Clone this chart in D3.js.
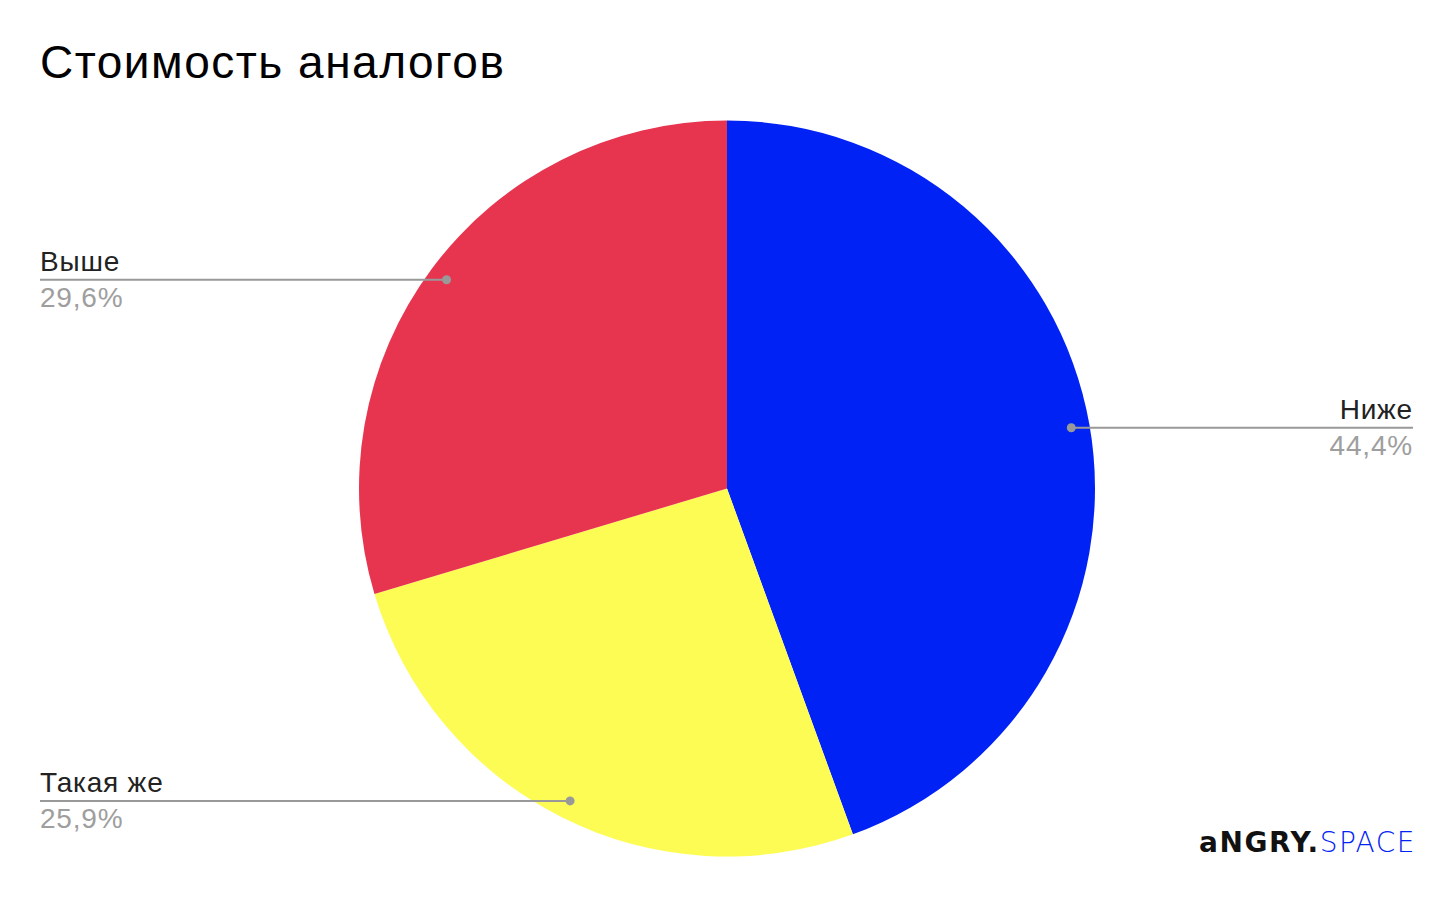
<!DOCTYPE html>
<html>
<head>
<meta charset="utf-8">
<script src="https://cdn.jsdelivr.net/npm/d3@7"></script>
<style>
    body { margin: 0; background: #fff; }
    text { font-family: "Liberation Sans", Arial, sans-serif; }
</style>
</head>
<body>
<svg id="pie-chart"></svg>
<script>
const categories = ["Ниже", "Такая же", "Выше"];
const values = [44.4, 25.9, 29.6];
const valueLabels = ["44,4%", "25,9%", "29,6%"];
const colors = ["#0022f5", "#fdfc54", "#e7344f"];

const totalWidth = 1456,
    totalHeight = 900,
    cx = 727,
    cy = 488.5,
    radius = 368,
    leftX = 40,
    rightX = 1413;

const svg = d3
    .select("#pie-chart")
    .attr("width", totalWidth)
    .attr("height", totalHeight);

// title
svg.append("text")
    .attr("x", 40)
    .attr("y", 78)
    .style("font-size", "46px")
    .style("letter-spacing", "1.5px")
    .style("fill", "#000")
    .text("Стоимость аналогов");

const data = categories.map((c, i) => ({
    name: c,
    value: values[i],
    label: valueLabels[i],
    color: colors[i]
}));

const pie = d3.pie().sort(null).value(d => d.value);
const arc = d3.arc().innerRadius(0).outerRadius(radius);

const g = svg.append("g")
    .attr("transform", "translate(" + cx + "," + cy + ")");

const arcs = pie(data);

g.selectAll(".slice")
    .data(arcs)
    .enter()
    .append("path")
    .attr("class", "slice")
    .attr("d", arc)
    .style("fill", d => d.data.color);

// label lines + dots, anchored at the middle of each slice
const dotR = radius * 0.95;
arcs.forEach(a => {
    const angle = (a.startAngle + a.endAngle) / 2;
    const px = cx + dotR * Math.sin(angle);
    const py = cy - dotR * Math.cos(angle);
    const right = px > cx;
    const endX = right ? rightX : leftX;

    svg.append("line")
        .attr("x1", px)
        .attr("y1", py)
        .attr("x2", endX)
        .attr("y2", py)
        .style("stroke", "#999")
        .style("stroke-width", 2);

    svg.append("circle")
        .attr("cx", px)
        .attr("cy", py)
        .attr("r", 4.5)
        .style("fill", "#999");

    svg.append("text")
        .attr("x", endX)
        .attr("y", py - 9)
        .style("text-anchor", right ? "end" : "start")
        .style("font-size", "28px")
        .style("letter-spacing", "0.8px")
        .style("fill", "#222")
        .text(a.data.name);

    svg.append("text")
        .attr("x", endX)
        .attr("y", py + 27)
        .style("text-anchor", right ? "end" : "start")
        .style("font-size", "28px")
        .style("letter-spacing", "0.8px")
        .style("fill", "#9e9e9e")
        .text(a.data.label);
});

// logo
const logo = svg.append("text")
    .attr("x", 1416)
    .attr("y", 852)
    .style("text-anchor", "end")
    .style("font-family", "'DejaVu Sans', sans-serif")
    .style("font-size", "28px")
    .style("letter-spacing", "1.5px");
logo.append("tspan")
    .style("font-weight", "bold")
    .style("fill", "#111")
    .text("aNGRY.");
logo.append("tspan")
    .style("font-weight", "200")
    .style("fill", "#0022f5")
    .text("SPACE");
</script>
</body>
</html>
